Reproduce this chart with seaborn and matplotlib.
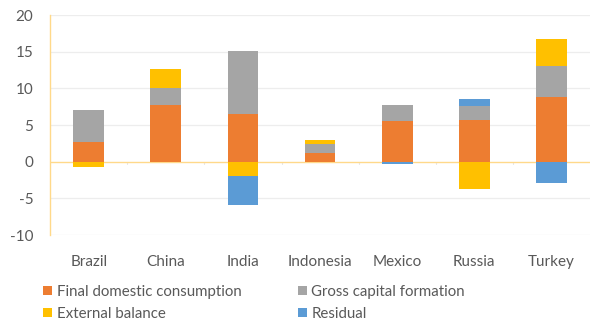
import matplotlib
matplotlib.use("Agg")
import matplotlib.pyplot as plt
from matplotlib.patches import Patch
import numpy as np
import pandas as pd
import seaborn as sns

countries = ["Brazil", "China", "India", "Indonesia", "Mexico", "Russia", "Turkey"]
final_consumption = [2.7, 7.7, 6.5, 1.2, 5.5, 5.7, 8.8]
capital_formation = [4.3, 2.4, 8.6, 1.2, 2.2, 1.9, 4.2]
external_balance = [-0.7, 2.5, -2.0, 0.6, 0.0, -3.7, 3.7]
residual = [0.0, 0.0, -3.9, 0.0, -0.3, 0.9, -2.9]
y_ticks = [-10, -5, 0, 5, 10, 15, 20]

series = [
    ("Final domestic consumption", final_consumption, "#ED7D31"),
    ("Gross capital formation", capital_formation, "#A5A5A5"),
    ("External balance", external_balance, "#FFC000"),
    ("Residual", residual, "#5B9BD5"),
]

sns.set_theme(style="white")
plt.rcParams["font.family"] = ["Lato", "DejaVu Sans"]

fig = plt.figure(figsize=(5.9, 3.27), dpi=100)
ax = fig.add_axes([0.085, 0.281, 0.915, 0.673])

pos_base = np.zeros(len(countries))
neg_base = np.zeros(len(countries))
for name, vals, color in series:
    vals = np.asarray(vals, dtype=float)
    bottoms = np.where(vals >= 0, pos_base, neg_base)
    df = pd.DataFrame({"country": countries, "value": vals})
    sns.barplot(data=df, x="country", y="value", bottom=bottoms, color=color,
                width=0.4, ax=ax, saturation=1, linewidth=0, errorbar=None)
    pos_base = pos_base + np.where(vals > 0, vals, 0)
    neg_base = neg_base + np.where(vals < 0, vals, 0)

ax.set_ylim(-10, 20)
ax.set_xlim(-0.5, len(countries) - 0.5)
ax.set_yticks(y_ticks)
ax.set_yticklabels([str(t) for t in y_ticks])
ax.set_xlabel("")
ax.set_ylabel("")
for t in y_ticks:
    if t != 0:
        ax.axhline(t, color="#EDEDED", lw=0.9, zorder=0)
ax.axhline(0, color="#FFD98A", lw=1.0, zorder=0.5)
ax.set_axisbelow(True)

for s in ["top", "right", "bottom"]:
    ax.spines[s].set_visible(False)
ax.spines["left"].set_color("#FFD98A")
ax.spines["left"].set_linewidth(1.0)

# small category-separator ticks on the zero line
for xb in np.arange(0.5, len(countries) - 0.5, 1.0):
    ax.plot([xb, xb], [0, -0.35], color="#E6E6E6", lw=0.8, zorder=0.4)

ax.tick_params(axis="y", labelsize=11, colors="#595959", length=0, pad=12)
ax.tick_params(axis="x", labelsize=11, colors="#595959", length=0, pad=14)

handles = [Patch(facecolor=c, edgecolor="none", label=n) for n, _, c in series]
order = [0, 2, 1, 3]
fig.legend([handles[i] for i in order], [series[i][0] for i in order],
           ncol=2, loc="upper left", bbox_to_anchor=(0.063, 0.147),
           frameon=False, fontsize=10.8, handlelength=0.6, handleheight=0.6,
           handletextpad=0.3, columnspacing=3.75, labelspacing=0.52,
           labelcolor="#595959", borderaxespad=0)

fig.savefig("out.png", dpi=100)
